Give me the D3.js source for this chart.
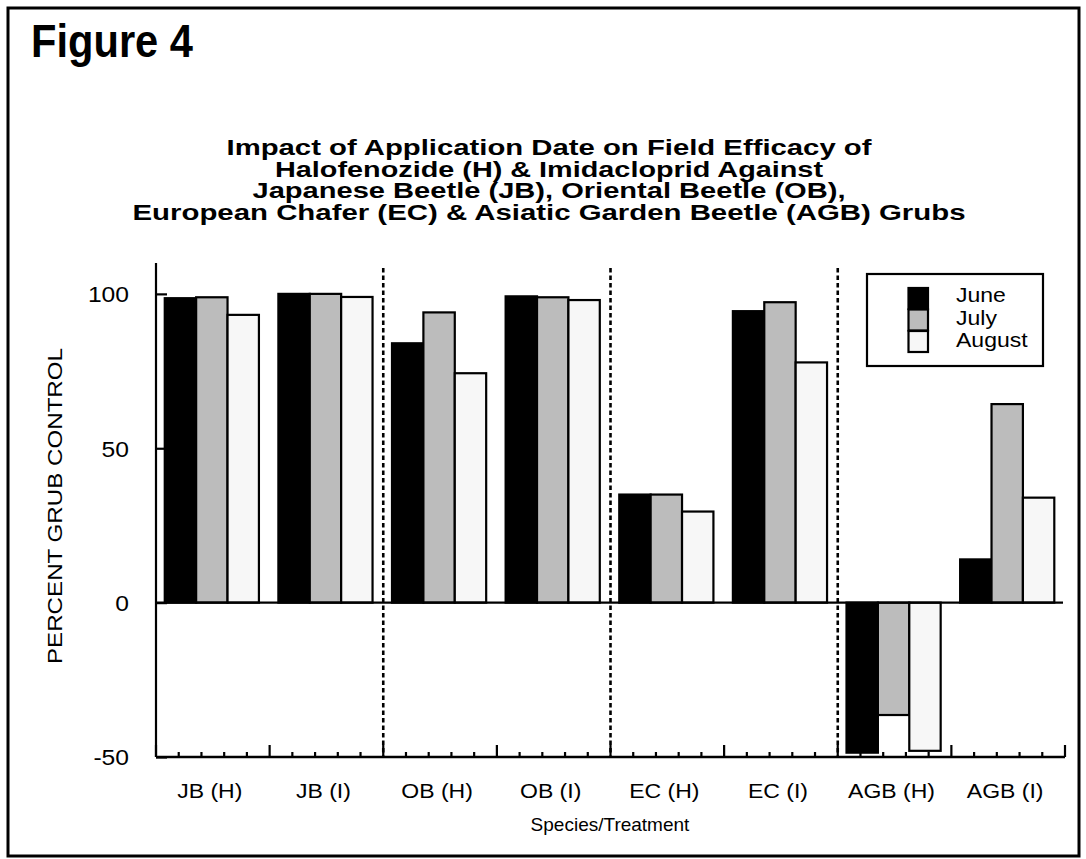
<!DOCTYPE html>
<html>
<head>
<meta charset="utf-8">
<script src="https://cdn.jsdelivr.net/npm/d3@7/dist/d3.min.js"></script>
<style>
  html, body { margin: 0; padding: 0; background: #fff; }
  svg { display: block; }
  text { font-family: "Liberation Sans", Arial, Helvetica, sans-serif; fill: #000; }
</style>
</head>
<body>
<script>
// ---- Data ----
const categories = ["JB (H)", "JB (I)", "OB (H)", "OB (I)", "EC (H)", "EC (I)", "AGB (H)", "AGB (I)"];
const seriesNames = ["June", "July", "August"];
const june   = [98.6, 100, 84, 99.2, 35, 94.4, -48.6, 14];
const july   = [98.9, 100, 94, 98.9, 35, 97.3, -36.4, 64.3];
const august = [93.2, 99, 74.3, 98, 29.5, 77.8, -48, 34];
const yTicks = [-50, 0, 50, 100];
const titleLines = [
  "Impact of Application Date on Field Efficacy of",
  "Halofenozide (H) & Imidacloprid Against",
  "Japanese Beetle (JB), Oriental Beetle (OB),",
  "European Chafer (EC) & Asiatic Garden Beetle (AGB) Grubs"
];

(function () {
const W = 1086, H = 859;
const svg = d3.select("body").append("svg").attr("width", W).attr("height", H);

// widen text horizontally by a factor (reference glyphs are slightly wide)
function stretch(sel, f) {
  sel.each(function () {
    const len = this.getComputedTextLength();
    d3.select(this).attr("textLength", len * f).attr("lengthAdjust", "spacingAndGlyphs");
  });
}

// outer frame
svg.append("rect").attr("x", 8).attr("y", 8).attr("width", 1071).attr("height", 848)
  .attr("fill", "#fff").attr("stroke", "#000").attr("stroke-width", 3);

// Figure label
svg.append("text").attr("x", 31).attr("y", 57)
  .attr("font-size", 47).attr("font-weight", "bold")
  .attr("textLength", 162).attr("lengthAdjust", "spacingAndGlyphs")
  .text("Figure 4");

// title
const titleWidths = [645, 548, 593, 833];
const titleY = [155, 176.5, 198, 219.5];
titleLines.forEach((t, i) => {
  svg.append("text").attr("x", 549).attr("y", titleY[i])
    .attr("text-anchor", "middle").attr("font-size", 22.5).attr("font-weight", "bold")
    .attr("textLength", titleWidths[i]).attr("lengthAdjust", "spacingAndGlyphs")
    .text(t);
});

// scales
const pLeft = 156, pRight = 1065, pTop = 263, pBottom = 757;
const x = d3.scaleBand().domain(categories).range([pLeft, pRight]).paddingInner(0).paddingOuter(0);
const x1 = d3.scaleBand().domain(seriesNames).range([0, x.bandwidth()]).paddingInner(0).paddingOuter(0.31).align(0.45);
const y = d3.scaleLinear().domain([-50, 110]).range([pBottom, pTop]);

const fills = { June: "#000000", July: "#bcbcbc", August: "#f7f7f7" };
const data = categories.map((c, i) => ({ cat: c, vals: [
  { s: "June", v: june[i] }, { s: "July", v: july[i] }, { s: "August", v: august[i] }
]}));

// dashed dividers
[2, 4, 6].forEach(k => {
  const xv = x(categories[k]);
  svg.append("line").attr("x1", xv).attr("x2", xv).attr("y1", 268).attr("y2", pBottom)
    .attr("stroke", "#000").attr("stroke-width", 2.6).attr("stroke-dasharray", "4.5,3");
});

// bars
const g = svg.append("g");
data.forEach(d => {
  g.selectAll(null).data(d.vals).enter().append("rect")
    .attr("x", v => x(d.cat) + x1(v.s))
    .attr("width", x1.bandwidth())
    .attr("y", v => Math.min(y(v.v), y(0)))
    .attr("height", v => Math.abs(y(v.v) - y(0)))
    .attr("fill", v => fills[v.s])
    .attr("stroke", "#000").attr("stroke-width", 2.2);
});

// zero line
svg.append("line").attr("x1", pLeft).attr("x2", 1063).attr("y1", y(0)).attr("y2", y(0))
  .attr("stroke", "#000").attr("stroke-width", 2.2);

// y axis
const yAxis = d3.axisLeft(y).tickValues(yTicks).tickSize(-11).tickPadding(0).tickFormat(d => String(d));
const ya = svg.append("g").attr("transform", `translate(${pLeft},0)`).call(yAxis);
ya.select(".domain").attr("d", `M0,${pTop}V${pBottom}`).attr("stroke-width", 2.2);
ya.selectAll(".tick line").attr("stroke-width", 2.2);
const yt = ya.selectAll(".tick text").attr("x", -27).attr("dy", "0.36em")
  .attr("font-size", 22).attr("font-family", "Liberation Sans, Arial, sans-serif");
stretch(yt, 1.12);

// x axis: major ticks at group boundaries, minor at fifths
const boundaries = categories.map(c => x(c)).concat([pRight]);
const minor = [];
categories.forEach(c => { for (let k = 1; k < 5; k++) minor.push(x(c) + x.bandwidth() * k / 5); });
const xa = svg.append("g");
xa.append("line").attr("x1", pLeft).attr("x2", pRight).attr("y1", pBottom).attr("y2", pBottom)
  .attr("stroke", "#000").attr("stroke-width", 2.6);
xa.selectAll(".maj").data(boundaries).enter().append("line")
  .attr("x1", d => d).attr("x2", d => d).attr("y1", pBottom).attr("y2", pBottom - 12)
  .attr("stroke", "#000").attr("stroke-width", 2.2);
xa.selectAll(".min").data(minor).enter().append("line")
  .attr("x1", d => d).attr("x2", d => d).attr("y1", pBottom).attr("y2", pBottom - 5)
  .attr("stroke", "#000").attr("stroke-width", 2.2);
const xl = xa.selectAll(".lab").data(categories).enter().append("text")
  .attr("x", d => x(d) + x.bandwidth() / 2 - 3).attr("y", 798)
  .attr("text-anchor", "middle").attr("font-size", 20)
  .text(d => d);
stretch(xl, 1.15);

// axis titles
svg.append("text").attr("x", 610).attr("y", 831).attr("text-anchor", "middle")
  .attr("font-size", 19).text("Species/Treatment");
svg.append("text").attr("transform", "translate(62,506) rotate(-90)")
  .attr("text-anchor", "middle").attr("font-size", 21)
  .attr("textLength", 316).attr("lengthAdjust", "spacingAndGlyphs")
  .text("PERCENT GRUB CONTROL");

// legend
const lg = svg.append("g");
lg.append("rect").attr("x", 867).attr("y", 274).attr("width", 176).attr("height", 92)
  .attr("fill", "#fff").attr("stroke", "#000").attr("stroke-width", 2.2);
const swY = [288, 309.5, 331];
const txY = [302, 325, 347];
seriesNames.forEach((s, i) => {
  lg.append("rect").attr("x", 908.5).attr("y", swY[i]).attr("width", 19.5).attr("height", 21)
    .attr("fill", fills[s]).attr("stroke", "#000").attr("stroke-width", 2.2);
  const t = lg.append("text").attr("x", 956).attr("y", txY[i]).attr("font-size", 20).text(s);
  stretch(t, 1.15);
});
})();
</script>
</body>
</html>
